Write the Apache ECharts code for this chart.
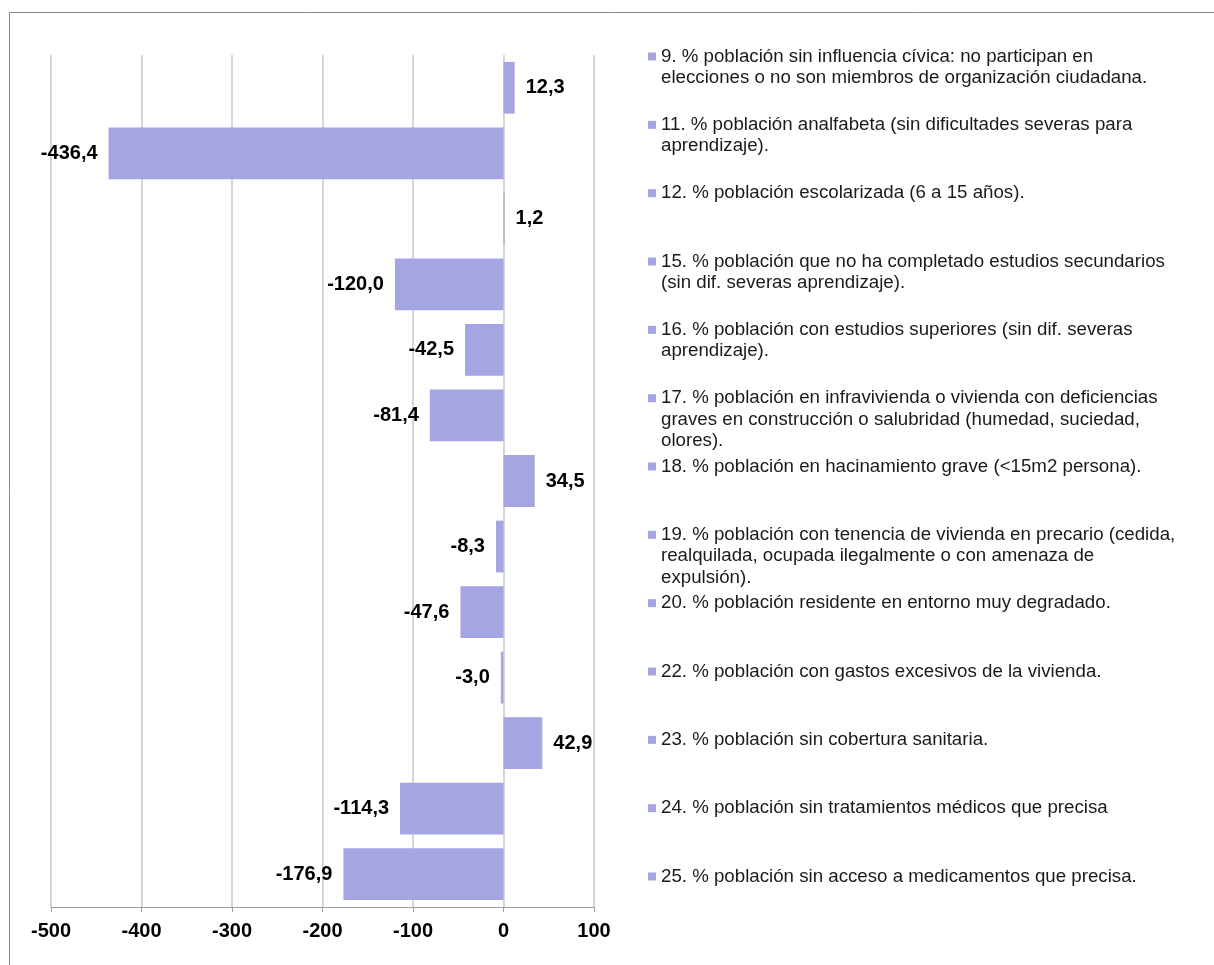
<!DOCTYPE html>
<html>
<head>
<meta charset="utf-8">
<script src="https://cdn.jsdelivr.net/npm/echarts@6/dist/echarts.min.js"></script>
<style>
  html, body { margin: 0; padding: 0; background: #fff; }
  #chart { width: 1214px; height: 965px; }
</style>
</head>
<body>
<div id="chart"></div>
<script>
// indicadores (orden de arriba abajo)
const indicators = [
  "9. % población sin influencia cívica: no participan en\nelecciones o no son miembros de organización ciudadana.",
  "11. % población analfabeta (sin dificultades severas para\naprendizaje).",
  "12. % población escolarizada (6 a 15 años).",
  "15. % población que no ha completado estudios secundarios\n(sin dif. severas aprendizaje).",
  "16. % población con estudios superiores (sin dif. severas\naprendizaje).",
  "17. % población en infravivienda o vivienda con deficiencias\ngraves en construcción o salubridad (humedad, suciedad,\nolores).",
  "18. % población en hacinamiento grave (<15m2 persona).",
  "19. % población con tenencia de vivienda en precario (cedida,\nrealquilada, ocupada ilegalmente o con amenaza de\nexpulsión).",
  "20. % población residente en entorno muy degradado.",
  "22. % población con gastos excesivos de la vivienda.",
  "23. % población sin cobertura sanitaria.",
  "24. % población sin tratamientos médicos que precisa",
  "25. % población sin acceso a medicamentos que precisa."
];
const values = [12.3, -436.4, 1.2, -120.0, -42.5, -81.4, 34.5, -8.3, -47.6, -3.0, 42.9, -114.3, -176.9];
const xMin = -500, xMax = 100, xStep = 100;

const barColor = "#A5A5E3";
const font = "'Liberation Sans', Arial, sans-serif";

const chart = echarts.init(document.getElementById("chart"));

const option = {
    backgroundColor: "#fff",
    animation: false,
    textStyle: { fontFamily: font },
    graphic: [
        {
            type: "rect",
            silent: true,
            shape: { x: 9.5, y: 12.5, width: 1400, height: 1200 },
            style: { fill: "none", stroke: "#8a8a8a", lineWidth: 1 }
        }
    ],
    grid: [
        { left: 51, right: 620, top: 55, bottom: 58 },
        { left: 640, right: 10, top: 11.6, height: 888.3 }
    ],
    xAxis: [
        {
            type: "value",
            gridIndex: 0,
            min: xMin,
            max: xMax,
            interval: xStep,
            axisLine: { show: true, lineStyle: { color: "#a0a0a0", width: 1 } },
            axisTick: { show: true, length: 5, lineStyle: { color: "#a0a0a0" } },
            axisLabel: {
                margin: 14,
                color: "#000",
                fontSize: 20,
                fontWeight: "bold",
                fontFamily: font
            },
            splitLine: { show: true, lineStyle: { color: "#c8c8c8", width: 1.5 } }
        },
        { type: "value", gridIndex: 1, min: 0, max: 1, show: false }
    ],
    yAxis: [
        {
            type: "category",
            gridIndex: 0,
            data: indicators,
            inverse: true,
            axisLine: { show: false },
            axisTick: { show: false },
            axisLabel: { show: false },
            splitLine: { show: false }
        },
        {
            type: "category",
            gridIndex: 1,
            data: indicators,
            inverse: true,
            axisLine: { show: false },
            axisTick: { show: false },
            splitLine: { show: false },
            axisLabel: {
                inside: true,
                margin: 8,
                align: "left",
                verticalAlign: "top",
                color: "#1a1a1a",
                fontSize: 18.7,
                lineHeight: 21.5,
                fontFamily: font,
                formatter: function (v) {
                    const lines = v.split("\n");
                    return lines.map(function (l, i) {
                        return (i === 0 ? "{sq|}{gap|}" : "{ind|}") + l;
                    }).join("\n");
                },
                rich: {
                    sq: { width: 8, height: 8, backgroundColor: barColor },
                    gap: { width: 5 },
                    ind: { width: 13 }
                }
            }
        }
    ],
    series: [
        {
            type: "bar",
            xAxisIndex: 0,
            yAxisIndex: 0,
            barCategoryGap: "21%",
            itemStyle: { color: barColor },
            label: {
                show: true,
                distance: 11,
                color: "#000",
                fontSize: 20,
                fontWeight: "bold",
                fontFamily: font,
                formatter: function (p) {
                    return p.value.toFixed(1).replace(".", ",");
                }
            },
            data: values.map(function (v) {
                return { value: v, label: { position: v < 0 ? "left" : "right" } };
            })
        }
    ]
};

chart.setOption(option);
</script>
</body>
</html>
